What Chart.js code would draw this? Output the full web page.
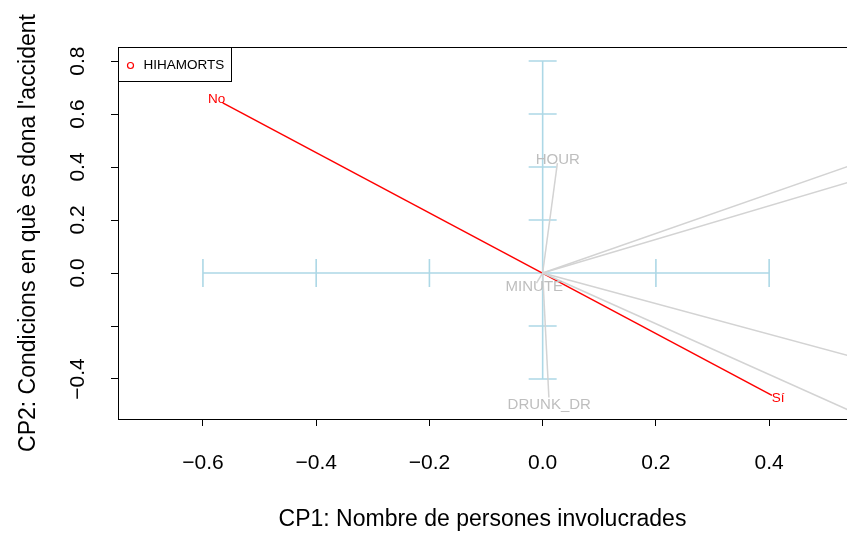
<!DOCTYPE html>
<html><head><meta charset="utf-8">
<script src="https://cdn.jsdelivr.net/npm/chart.js@4/dist/chart.umd.min.js"></script>
<style>html,body{margin:0;padding:0;background:#fff}#wrap{width:847px;height:534px}</style>
</head><body><div id="wrap"><canvas id="c" width="847" height="534"></canvas></div>
<script>
// ---- data ----
const categoryNames = ['No', 'Sí'];
const categoryX = [-0.565, 0.405];
const categoryY = [0.642, -0.462];

const variableNames = ['HOUR', 'MINUTE', 'DRUNK_DR', '', '', '', ''];
const variableX = [0.026, -0.011, 0.011, 0.75, 0.75, 0.75, 0.75];
const variableY = [0.415, -0.038, -0.470, 0.560, 0.475, -0.433, -0.718];

const crossTicksX = [-0.6, -0.4, -0.2, 0.0, 0.2, 0.4];
const crossTicksY = [-0.4, -0.2, 0.0, 0.2, 0.4, 0.6, 0.8];

const xTickValues = [-0.6, -0.4, -0.2, 0.0, 0.2, 0.4];
const xTickLabels = ['\u22120.6', '\u22120.4', '\u22120.2', '0.0', '0.2', '0.4'];
const yTickValues = [-0.4, -0.2, 0.0, 0.2, 0.4, 0.6, 0.8];
const yTickLabels = ['\u22120.4', '', '0.0', '0.2', '0.4', '0.6', '0.8'];

const legendLabel = 'HIHAMORTS';
const xTitle = 'CP1: Nombre de persones involucrades';
const yTitle = "CP2: Condicions en què es dona l'accident";

// ---- chart ----
const FONT = "'Liberation Sans', Arial, Helvetica, sans-serif";
const datasets = [];
variableX.forEach((vx, i) => {
  datasets.push({
    label: variableNames[i] || ('v' + i),
    data: [{x: 0, y: 0}, {x: vx, y: variableY[i]}],
    showLine: true, borderColor: '#D3D3D3', borderWidth: 1.5,
    pointRadius: 0, pointHoverRadius: 0, fill: false
  });
});
datasets.push({
  label: legendLabel,
  data: categoryX.map((cx, i) => ({x: cx, y: categoryY[i]})),
  showLine: true, borderColor: '#FF0000', borderWidth: 1.5,
  pointRadius: 0, pointHoverRadius: 0, fill: false
});

function setTicks(values) {
  return function (scale) { scale.ticks = values.map(v => ({value: v})); };
}

const overlay = {
  id: 'overlay',
  beforeDatasetsDraw(chart) {
    const {ctx, scales: {x, y}} = chart;
    const x0 = x.getPixelForValue(0), y0 = y.getPixelForValue(0);
    ctx.save();
    ctx.strokeStyle = '#ADD8E6';
    ctx.lineWidth = 1.6;
    ctx.beginPath();
    ctx.moveTo(x.getPixelForValue(crossTicksX[0]), y0);
    ctx.lineTo(x.getPixelForValue(crossTicksX[crossTicksX.length - 1]), y0);
    crossTicksX.forEach(v => {
      const px = x.getPixelForValue(v);
      ctx.moveTo(px, y0 - 14); ctx.lineTo(px, y0 + 14);
    });
    ctx.moveTo(x0, y.getPixelForValue(crossTicksY[0]));
    ctx.lineTo(x0, y.getPixelForValue(crossTicksY[crossTicksY.length - 1]));
    crossTicksY.forEach(v => {
      const py = y.getPixelForValue(v);
      ctx.moveTo(x0 - 14, py); ctx.lineTo(x0 + 14, py);
    });
    ctx.stroke();
    ctx.restore();
  },
  afterDatasetsDraw(chart) {
    const {ctx, scales: {x, y}} = chart;
    const x0 = x.getPixelForValue(0), y0 = y.getPixelForValue(0);
    function place(vx, vy, off) {
      const px = x.getPixelForValue(vx), py = y.getPixelForValue(vy);
      const dx = px - x0, dy = py - y0, len = Math.hypot(dx, dy) || 1;
      return [px + dx / len * off, py + dy / len * off];
    }
    ctx.save();
    ctx.textAlign = 'center';
    ctx.textBaseline = 'middle';
    ctx.font = '15px ' + FONT;
    ctx.fillStyle = '#BEBEBE';
    variableNames.forEach((n, i) => {
      if (!n) return;
      const off = i === 0 ? 3 : (i === 2 ? 7 : 4);
      const [lx, ly] = place(variableX[i], variableY[i], off);
      ctx.fillText(n, lx, ly);
    });
    ctx.font = '13.5px ' + FONT;
    ctx.fillStyle = '#FF0000';
    categoryNames.forEach((n, i) => {
      const [lx, ly] = place(categoryX[i], categoryY[i], 7);
      ctx.fillText(n, lx, ly);
    });
    ctx.restore();
  },
  afterDraw(chart) {
    const {ctx, chartArea: a} = chart;
    ctx.save();
    ctx.strokeStyle = '#000';
    ctx.lineWidth = 1;
    ctx.strokeRect(Math.round(a.left) + 0.5, Math.round(a.top) + 0.5, 900, Math.round(a.bottom - a.top));
    // legend
    const lx = Math.round(a.left) + 0.5, ly = Math.round(a.top) + 0.5;
    ctx.fillStyle = '#fff';
    ctx.fillRect(lx, ly, 113, 34);
    ctx.strokeRect(lx, ly, 113, 34);
    ctx.strokeStyle = '#FF0000';
    ctx.lineWidth = 1.2;
    ctx.beginPath();
    ctx.arc(lx + 12, ly + 18, 3, 0, Math.PI * 2);
    ctx.stroke();
    ctx.fillStyle = '#000';
    ctx.font = '13.5px ' + FONT;
    ctx.textAlign = 'left';
    ctx.textBaseline = 'middle';
    ctx.fillText(legendLabel, lx + 25, ly + 18);
    ctx.restore();
  }
};

new Chart(document.getElementById('c'), {
  type: 'scatter',
  data: {datasets},
  options: {
    responsive: false,
    animation: false,
    devicePixelRatio: 1,
    layout: {padding: {top: 47, right: 0, bottom: 0, left: 0}},
    plugins: {legend: {display: false}, tooltip: {enabled: false}},
    scales: {
      x: {
        type: 'linear', min: -0.75, max: 0.5375,
        afterBuildTicks: setTicks(xTickValues),
        afterFit(s) { s.height = 115; s.paddingLeft = 0; s.paddingRight = 0; },
        grid: {display: true, drawOnChartArea: false, drawTicks: true, tickLength: 7, tickColor: '#000', tickWidth: 1},
        border: {display: false},
        ticks: {
          padding: 25, color: '#000', font: {family: FONT, size: 21},
          maxRotation: 0, minRotation: 0, autoSkip: false,
          callback: (v, i) => xTickLabels[i]
        },
        title: {display: true, text: xTitle, color: '#000', font: {family: FONT, size: 23}, padding: {top: 0, bottom: 1}}
      },
      y: {
        type: 'linear', min: -0.551, max: 0.853,
        afterBuildTicks: setTicks(yTickValues),
        afterFit(s) { s.width = 118; s.paddingTop = 0; s.paddingBottom = 0; },
        grid: {display: true, drawOnChartArea: false, drawTicks: true, tickLength: 7, tickColor: '#000', tickWidth: 1},
        border: {display: false},
        ticks: {
          padding: 12, color: '#000', font: {family: FONT, size: 21},
          minRotation: 90, maxRotation: 90, crossAlign: 'center', autoSkip: false,
          callback: (v, i) => yTickLabels[i]
        },
        title: {display: true, text: yTitle, color: '#000', font: {family: FONT, size: 23}, padding: {top: 15, bottom: 0}}
      }
    }
  },
  plugins: [overlay]
});
</script>
</body></html>
